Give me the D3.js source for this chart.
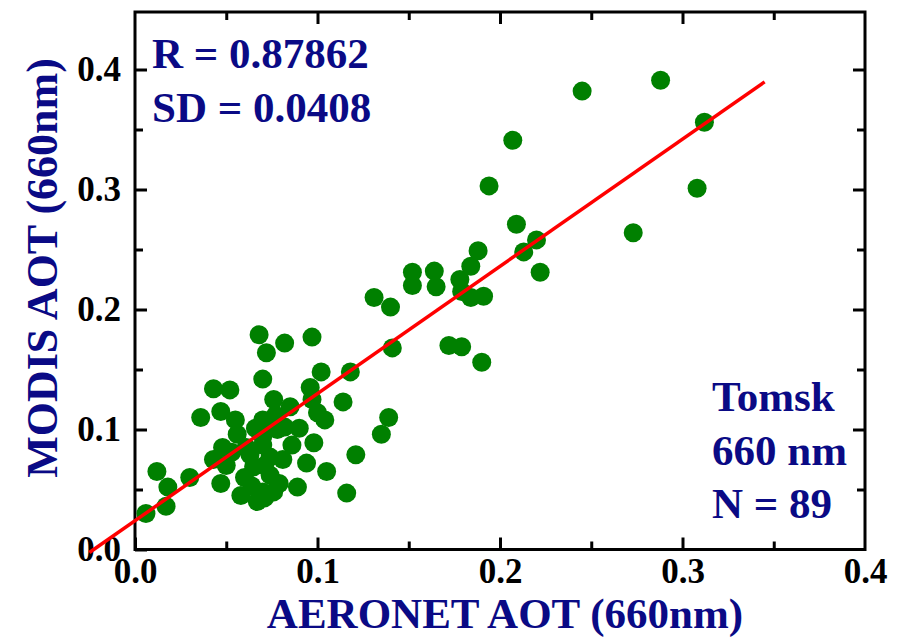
<!DOCTYPE html>
<html>
<head>
<meta charset="utf-8">
<script src="https://cdn.jsdelivr.net/npm/d3@7"></script>
<style>
  html, body { margin: 0; padding: 0; background: #fff; }
  svg { display: block; }
  text { font-family: "Liberation Serif", "Times New Roman", serif; font-weight: bold; }
</style>
</head>
<body>
<svg id="chart" width="902" height="639"></svg>
<script>
// ---- data ----
const aeronetAOT = [
  0.288, 0.245, 0.312, 0.207, 0.194, 0.308, 0.209, 0.273, 0.220, 0.213,
  0.222, 0.188, 0.184, 0.178, 0.179, 0.184, 0.191, 0.152, 0.152, 0.164,
  0.165, 0.131, 0.140, 0.172, 0.179, 0.190, 0.141, 0.139, 0.135, 0.121,
  0.116, 0.118, 0.102, 0.097, 0.082, 0.068, 0.072, 0.070, 0.096, 0.114,
  0.076, 0.085, 0.100, 0.082, 0.043, 0.052, 0.047, 0.036, 0.070, 0.056,
  0.070, 0.048, 0.043, 0.050, 0.063, 0.074, 0.098, 0.094, 0.105, 0.065,
  0.074, 0.030, 0.012, 0.018, 0.017, 0.006, 0.047, 0.064, 0.067, 0.076,
  0.079, 0.089, 0.070, 0.061, 0.070, 0.078, 0.097, 0.060, 0.071, 0.066,
  0.077, 0.058, 0.071, 0.055, 0.086, 0.081, 0.090, 0.053, 0.104
];
const modisAOT = [
  0.391, 0.382, 0.356, 0.341, 0.303, 0.301, 0.271, 0.264, 0.258, 0.248,
  0.231, 0.249, 0.236, 0.225, 0.215, 0.210, 0.211, 0.231, 0.220, 0.232,
  0.219, 0.210, 0.202, 0.170, 0.169, 0.156, 0.168, 0.110, 0.096, 0.079,
  0.047, 0.148, 0.148, 0.177, 0.172, 0.179, 0.164, 0.142, 0.135, 0.123,
  0.125, 0.119, 0.114, 0.102, 0.134, 0.133, 0.115, 0.110, 0.108, 0.096,
  0.094, 0.085, 0.075, 0.070, 0.079, 0.077, 0.089, 0.072, 0.065, 0.069,
  0.062, 0.060, 0.065, 0.052, 0.036, 0.030, 0.055, 0.053, 0.040, 0.048,
  0.055, 0.052, 0.048, 0.085, 0.087, 0.100, 0.125, 0.060, 0.070, 0.101,
  0.112, 0.045, 0.043, 0.108, 0.087, 0.075, 0.101, 0.081, 0.108
];
const fitSlope = 1.06;
const fitIntercept = 0.024;
const fitXRange = [-0.025, 0.345];
const xTickValues = [0.0, 0.1, 0.2, 0.3, 0.4];
const yTickValues = [0.0, 0.1, 0.2, 0.3, 0.4];
const xMinorTicks = [0.05, 0.15, 0.25, 0.35];
const yMinorTicks = [0.05, 0.15, 0.25, 0.35];
const statsLines = ["R = 0.87862", "SD = 0.0408"];
const siteLines = ["Tomsk", "660 nm", "N = 89"];
const xTitle = "AERONET AOT (660nm)";
const yTitle = "MODIS AOT (660nm)";

// ---- layout ----
const svg = d3.select("#chart");
const L = 135, R = 865, T = 12, B = 549.5;
const x = d3.scaleLinear().domain([0, 0.4]).range([L, R]);
const y = d3.scaleLinear().domain([0, 0.4]).range([B, B - 480]);
const navy = "#0a0a85";

const fmt = d3.format(".1f");

// bottom axis (labels + major ticks inward)
const gB = svg.append("g").attr("transform", `translate(0,${B})`)
  .call(d3.axisBottom(x).tickValues(xTickValues).tickFormat(fmt).tickSizeInner(-12).tickSizeOuter(0).tickPadding(26));
gB.selectAll(".tick text").attr("font-size", 35).attr("fill", "#000").attr("font-family", "Liberation Serif").attr("font-weight", "bold").attr("dy", "0.2em");
gB.selectAll(".tick").filter(d => d === 0.4).select("line").remove();
// minor bottom
svg.append("g").attr("transform", `translate(0,${B})`)
  .call(d3.axisBottom(x).tickValues(xMinorTicks).tickFormat("").tickSizeInner(-8).tickSizeOuter(0));

// left axis
const gL = svg.append("g").attr("transform", `translate(${L},0)`)
  .call(d3.axisLeft(y).tickValues(yTickValues).tickFormat(fmt).tickSizeInner(-12).tickSizeOuter(0).tickPadding(14));
gL.selectAll(".tick text").attr("font-size", 35).attr("fill", "#000").attr("font-family", "Liberation Serif").attr("font-weight", "bold");
svg.append("g").attr("transform", `translate(${L},0)`)
  .call(d3.axisLeft(y).tickValues(yMinorTicks).tickFormat("").tickSizeInner(-8).tickSizeOuter(0));

// top axis
svg.append("g").attr("transform", `translate(0,${T})`)
  .call(d3.axisTop(x).tickValues(xTickValues.filter(v => v > 0 && v < 0.4)).tickFormat("").tickSizeInner(-12).tickSizeOuter(0));
svg.append("g").attr("transform", `translate(0,${T})`)
  .call(d3.axisTop(x).tickValues(xMinorTicks).tickFormat("").tickSizeInner(-8).tickSizeOuter(0));

// right axis
svg.append("g").attr("transform", `translate(${R},0)`)
  .call(d3.axisRight(y).tickValues(yTickValues.filter(v => v > 0)).tickFormat("").tickSizeInner(-12).tickSizeOuter(0));
svg.append("g").attr("transform", `translate(${R},0)`)
  .call(d3.axisRight(y).tickValues(yMinorTicks).tickFormat("").tickSizeInner(-8).tickSizeOuter(0));

svg.selectAll(".domain").remove();
svg.selectAll(".tick line").attr("stroke", "#000").attr("stroke-width", 3);

// frame
svg.append("rect").attr("x", L).attr("y", T).attr("width", R - L).attr("height", B - T)
  .attr("fill", "none").attr("stroke", "#000").attr("stroke-width", 3);

// points
svg.append("g").selectAll("circle")
  .data(aeronetAOT.map((v, i) => [v, modisAOT[i]]))
  .join("circle")
  .attr("cx", d => x(d[0])).attr("cy", d => y(d[1])).attr("r", 9.5)
  .attr("fill", "#008000");

// regression line
const fit = fitXRange.map(v => [v, fitIntercept + fitSlope * v]);
svg.append("path").datum(fit)
  .attr("d", d3.line().x(d => x(d[0])).y(d => y(d[1])))
  .attr("stroke", "#ff0000").attr("stroke-width", 3.5).attr("fill", "none");

// annotations
svg.append("g").selectAll("text").data(statsLines).join("text")
  .attr("x", 152).attr("y", (d, i) => 68 + i * 54)
  .attr("font-size", 43).attr("fill", navy).text(d => d);
svg.append("g").selectAll("text").data(siteLines).join("text")
  .attr("x", 712).attr("y", (d, i) => 411 + i * 53.5)
  .attr("font-size", 43).attr("fill", navy).text(d => d);

// axis titles
svg.append("text").attr("x", 505).attr("y", 628).attr("text-anchor", "middle")
  .attr("font-size", 43).attr("fill", navy).text(xTitle);
svg.append("text").attr("transform", "translate(57,268) rotate(-90)").attr("text-anchor", "middle")
  .attr("font-size", 44).attr("fill", navy).text(yTitle);
</script>
</body>
</html>
